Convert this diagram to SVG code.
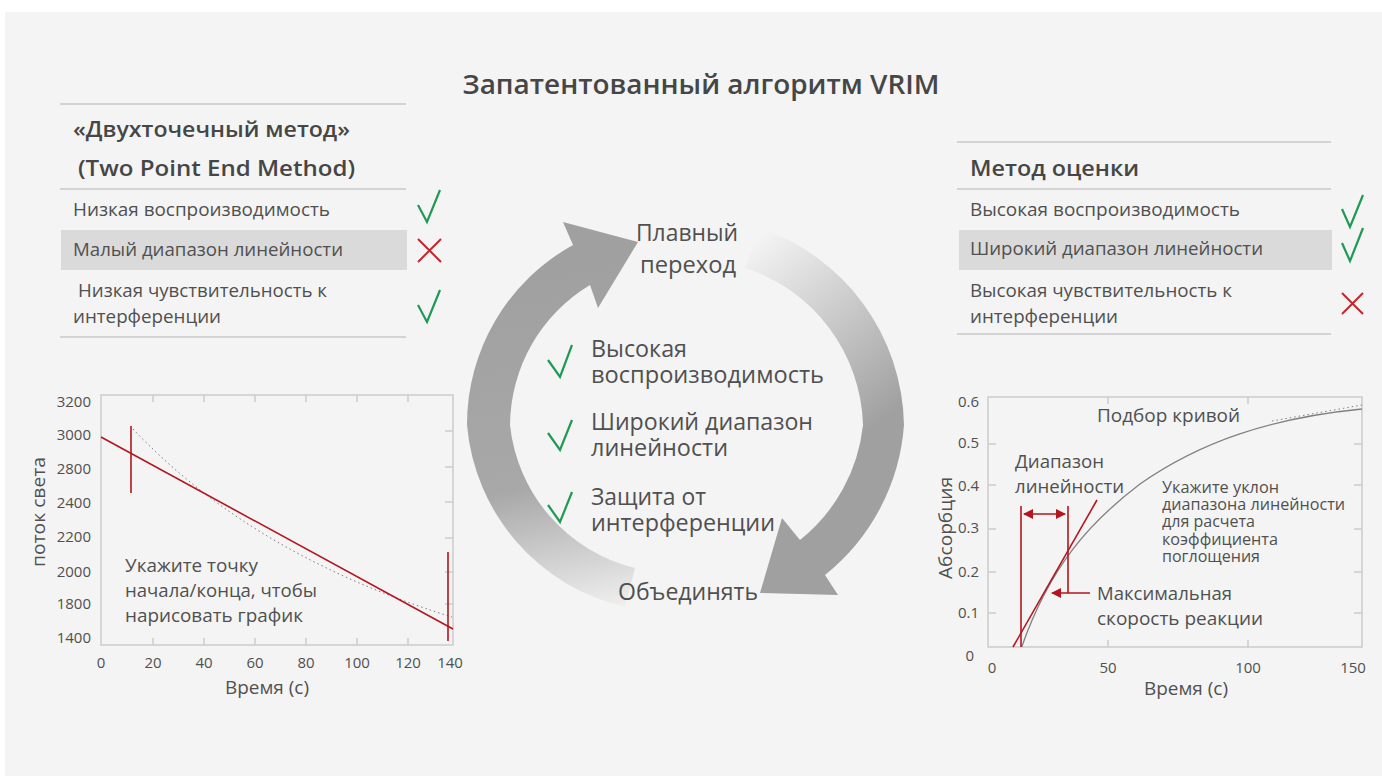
<svg xmlns="http://www.w3.org/2000/svg" width="1382" height="776" viewBox="0 0 1382 776">
<style>
.t{font-family:"Open Sans","Noto Sans","Liberation Sans",sans-serif;fill:#505050}
.b{font-weight:600;fill:#464646}
.row{font-size:17.5px}
.hd{font-size:22px}
.ctr{font-size:23px}
.tick{font-size:15px}
.ax{font-size:18.5px}
.ann{font-size:18.5px}
.sm{font-size:16px}
.rule{stroke:#c9c9c9;stroke-width:1.5}
.ok{fill:none;stroke:#1f9a55;stroke-width:2.2;stroke-linejoin:miter}
.no{fill:none;stroke:#c0272d;stroke-width:2}
.frame{fill:none;stroke:#cbcbcb;stroke-width:1.5}
.tk{stroke:#cbcbcb;stroke-width:1.5}
.red{stroke:#b3161f;stroke-width:1.6;fill:none}
</style>
<defs>
<linearGradient id="gl" gradientUnits="userSpaceOnUse" x1="570" y1="260" x2="640" y2="612">
<stop offset="0" stop-color="#9fa09f"/>
<stop offset="0.6" stop-color="#a7a8a7"/>
<stop offset="1" stop-color="#f4f4f4"/>
</linearGradient>
<linearGradient id="gr" gradientUnits="userSpaceOnUse" x1="755" y1="240" x2="895" y2="410">
<stop offset="0" stop-color="#f4f4f4"/>
<stop offset="1" stop-color="#9fa09f"/>
</linearGradient>
<marker id="ah" viewBox="0 0 10 10" refX="9" refY="5" markerWidth="10" markerHeight="10" markerUnits="userSpaceOnUse" orient="auto-start-reverse">
<path d="M0,0 L10,5 L0,10 Z" fill="#b3161f"/>
</marker>
</defs>

<rect x="0" y="0" width="1382" height="776" fill="#ffffff"/>
<rect x="5" y="12" width="1377" height="764" fill="#f4f4f4"/>

<g id="title">
<text class="t b" x="701" y="94" font-size="27" text-anchor="middle" textLength="477" lengthAdjust="spacingAndGlyphs">Запатентованный алгоритм VRIM</text>
</g>

<g id="left-table">
<line class="rule" x1="60" y1="104" x2="406" y2="104"/>
<text class="t b hd" x="73" y="137" textLength="277" lengthAdjust="spacingAndGlyphs">«Двухточечный метод»</text>
<text class="t b hd" x="78" y="176" textLength="277" lengthAdjust="spacingAndGlyphs">(Two Point End Method)</text>
<line class="rule" x1="60" y1="189" x2="406" y2="189"/>
<text class="t row" x="73" y="216" textLength="257" lengthAdjust="spacingAndGlyphs">Низкая воспроизводимость</text>
<rect x="61" y="230" width="346" height="40" fill="#dadada"/>
<text class="t row" x="73" y="256" textLength="270" lengthAdjust="spacingAndGlyphs">Малый диапазон линейности</text>
<text class="t row" x="78" y="297" textLength="249" lengthAdjust="spacingAndGlyphs">Низкая чувствительность к</text>
<text class="t row" x="73" y="323" textLength="148" lengthAdjust="spacingAndGlyphs">интерференции</text>
<line class="rule" x1="60" y1="337" x2="406" y2="337"/>
<polyline class="ok" points="418,205 427,222 440,190"/>
<path class="no" d="M418,239 L441,262 M441,239 L418,262"/>
<polyline class="ok" points="418,305 427,322 440,290"/>
</g>

<g id="right-table">
<line class="rule" x1="957" y1="142" x2="1331" y2="142"/>
<text class="t b hd" x="970" y="176" textLength="169" lengthAdjust="spacingAndGlyphs">Метод оценки</text>
<line class="rule" x1="957" y1="189" x2="1331" y2="189"/>
<text class="t row" x="970" y="216" textLength="270" lengthAdjust="spacingAndGlyphs">Высокая воспроизводимость</text>
<rect x="959" y="230" width="373" height="40" fill="#dadada"/>
<text class="t row" x="970" y="255" textLength="293" lengthAdjust="spacingAndGlyphs">Широкий диапазон линейности</text>
<text class="t row" x="970" y="297" textLength="262" lengthAdjust="spacingAndGlyphs">Высокая чувствительность к</text>
<text class="t row" x="970" y="323" textLength="148" lengthAdjust="spacingAndGlyphs">интерференции</text>
<line class="rule" x1="957" y1="334" x2="1331" y2="334"/>
<polyline class="ok" points="1342,209 1350,227 1363,195"/>
<polyline class="ok" points="1342,243 1350,261 1363,228"/>
<path class="no" d="M1342,293 L1363,314 M1363,293 L1342,314"/>
</g>

<g id="connectors">
<path d="M625,607 A205,205 0 0 1 467,425 A205,205 0 0 1 573,245 L563,222 L638,242 L598,308 L590,285 A165,165 0 0 0 510,425 A165,165 0 0 0 635,568 Z" fill="url(#gl)"/>
<path d="M760,228 A212,212 0 0 1 904,425 A212,212 0 0 1 825,575 L838,595 L760,593 L782,518 L800,540 A170,170 0 0 0 863,425 A170,170 0 0 0 745,268 Z" fill="url(#gr)"/>
</g>

<g id="node-smooth">
<text class="t ctr" x="636" y="241" textLength="102" lengthAdjust="spacingAndGlyphs">Плавный</text>
<text class="t ctr" x="640" y="273" textLength="96" lengthAdjust="spacingAndGlyphs">переход</text>
</g>
<g id="node-merge">
<text class="t ctr" x="618" y="600" textLength="140" lengthAdjust="spacingAndGlyphs">Объединять</text>
</g>

<g id="center-list">
<polyline class="ok" points="548,360 560,377 572,345"/>
<text class="t ctr" x="591" y="357" textLength="96" lengthAdjust="spacingAndGlyphs">Высокая</text>
<text class="t ctr" x="591" y="383" textLength="233" lengthAdjust="spacingAndGlyphs">воспроизводимость</text>
<polyline class="ok" points="548,433 560,450 572,420"/>
<text class="t ctr" x="591" y="430" textLength="222" lengthAdjust="spacingAndGlyphs">Широкий диапазон</text>
<text class="t ctr" x="591" y="456" textLength="137" lengthAdjust="spacingAndGlyphs">линейности</text>
<polyline class="ok" points="548,505 560,522 572,492"/>
<text class="t ctr" x="591" y="505" textLength="115" lengthAdjust="spacingAndGlyphs">Защита от</text>
<text class="t ctr" x="591" y="531" textLength="184" lengthAdjust="spacingAndGlyphs">интерференции</text>
</g>

<g id="left-chart">
<rect class="frame" x="101" y="395" width="352" height="250"/>
<path class="tk" d="M153,395V402M204,395V402M255,395V402M306,395V402M357,395V402M408,395V402M153,645V638M204,645V638M255,645V638M306,645V638M357,645V638M408,645V638M445,431H453M445,467H453M445,502H453M445,538H453M445,572H453M445,604H453"/>
<g class="t tick" text-anchor="end">
<text x="91" y="407">3200</text>
<text x="91" y="440">3000</text>
<text x="91" y="474">2800</text>
<text x="91" y="508">2400</text>
<text x="91" y="542">2200</text>
<text x="91" y="577">2000</text>
<text x="91" y="609">1800</text>
<text x="91" y="643">1400</text>
</g>
<g class="t tick" text-anchor="middle">
<text x="101" y="668">0</text>
<text x="153" y="668">20</text>
<text x="204" y="668">40</text>
<text x="255" y="668">60</text>
<text x="306" y="668">80</text>
<text x="357" y="668">100</text>
<text x="408" y="668">120</text>
<text x="450" y="668">140</text>
</g>
<text class="t ax" x="267" y="694" text-anchor="middle" textLength="84" lengthAdjust="spacingAndGlyphs">Время (с)</text>
<text class="t ax" transform="translate(45,512) rotate(-90)" text-anchor="middle" textLength="110" lengthAdjust="spacingAndGlyphs">поток света</text>
<path d="M133,429 C200,500 300,570 452,617" fill="none" stroke="#7a7a7a" stroke-width="1" stroke-dasharray="1.5,3"/>
<line class="red" x1="101" y1="437" x2="453" y2="629"/>
<line class="red" x1="131" y1="426" x2="131" y2="493"/>
<line class="red" x1="448" y1="552" x2="448" y2="641"/>
<text class="t ann" x="125" y="572" textLength="133" lengthAdjust="spacingAndGlyphs">Укажите точку</text>
<text class="t ann" x="125" y="597" textLength="192" lengthAdjust="spacingAndGlyphs">начала/конца, чтобы</text>
<text class="t ann" x="125" y="622" textLength="178" lengthAdjust="spacingAndGlyphs">нарисовать график</text>
</g>

<g id="right-chart">
<rect class="frame" x="988" y="397" width="374" height="250"/>
<path class="tk" d="M1108,397V404M1248,397V404M1108,647V640M1248,647V640M988,444H996M988,485H996M988,529H996M988,572H996M988,613H996M1354,444H1362M1354,485H1362M1354,529H1362M1354,572H1362M1354,613H1362"/>
<g class="t tick" text-anchor="end">
<text x="979" y="407">0.6</text>
<text x="979" y="448">0.5</text>
<text x="979" y="491">0.4</text>
<text x="979" y="533">0.3</text>
<text x="979" y="577">0.2</text>
<text x="979" y="618">0.1</text>
<text x="974" y="661">0</text>
</g>
<g class="t tick" text-anchor="middle">
<text x="992" y="673">0</text>
<text x="1108" y="673">50</text>
<text x="1248" y="673">100</text>
<text x="1353" y="673">150</text>
</g>
<text class="t ax" x="1186" y="695" text-anchor="middle" textLength="84" lengthAdjust="spacingAndGlyphs">Время (с)</text>
<text class="t ax" transform="translate(952,528) rotate(-90)" text-anchor="middle" textLength="102" lengthAdjust="spacingAndGlyphs">Абсорбция</text>
<path fill="none" stroke="#808080" stroke-width="1.3" d="M1021.7,647 C1050,566 1090,522 1140,484 C1200,442 1270,418 1362,409"/>
<line x1="1272" y1="421" x2="1362" y2="405" stroke="#808080" stroke-width="1" stroke-dasharray="1.5,3"/>
<line class="red" x1="1013" y1="647" x2="1097" y2="500"/>
<line class="red" x1="1021" y1="506" x2="1021" y2="647"/>
<line class="red" x1="1068" y1="506" x2="1068" y2="593"/>
<line class="red" x1="1024" y1="514" x2="1065" y2="514" marker-start="url(#ah)" marker-end="url(#ah)"/>
<line class="red" x1="1090" y1="593" x2="1052" y2="593" marker-end="url(#ah)"/>
<text class="t ann" x="1097" y="422" textLength="143" lengthAdjust="spacingAndGlyphs">Подбор кривой</text>
<text class="t ann" x="1015" y="468" textLength="89" lengthAdjust="spacingAndGlyphs">Диапазон</text>
<text class="t ann" x="1015" y="493" textLength="109" lengthAdjust="spacingAndGlyphs">линейности</text>
<text class="t sm" x="1162" y="493" textLength="117" lengthAdjust="spacingAndGlyphs">Укажите уклон</text>
<text class="t sm" x="1162" y="510" textLength="183" lengthAdjust="spacingAndGlyphs">диапазона линейности</text>
<text class="t sm" x="1162" y="527" textLength="93" lengthAdjust="spacingAndGlyphs">для расчета</text>
<text class="t sm" x="1162" y="545" textLength="116" lengthAdjust="spacingAndGlyphs">коэффициента</text>
<text class="t sm" x="1162" y="562" textLength="98" lengthAdjust="spacingAndGlyphs">поглощения</text>
<text class="t ann" x="1097" y="600" textLength="135" lengthAdjust="spacingAndGlyphs">Максимальная</text>
<text class="t ann" x="1097" y="625" textLength="166" lengthAdjust="spacingAndGlyphs">скорость реакции</text>
</g>
</svg>
